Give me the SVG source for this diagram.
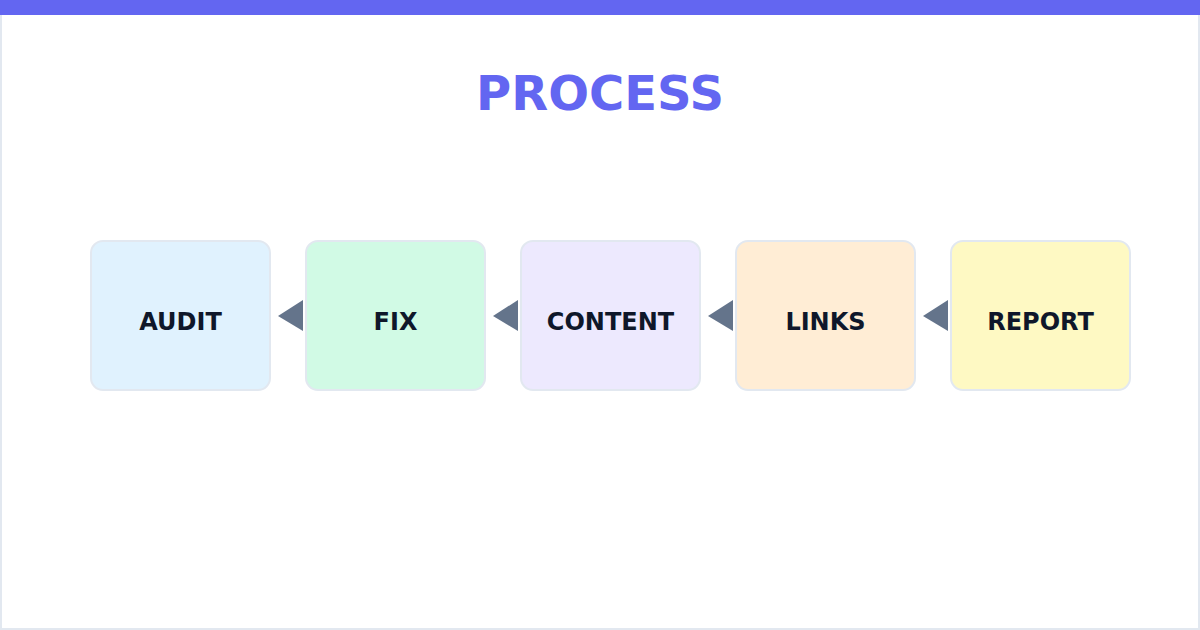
<svg xmlns="http://www.w3.org/2000/svg" width="1200" height="630" viewBox="0 0 1200 630">
<style>
.box{stroke:#e2e8f0;stroke-width:2}
.lbl{font-family:"DejaVu Sans",sans-serif;font-weight:bold;font-size:24px;fill:#0f172a;text-anchor:middle}
.arr{fill:#64748b}
</style>
<rect x="1" y="1" width="1198" height="628" fill="#ffffff" stroke="#e2e8f0" stroke-width="2"/>
<rect x="0" y="0" width="1200" height="15" fill="#6366f1"/>
<text x="600" y="110" font-family="DejaVu Sans, sans-serif" font-weight="bold" font-size="48" fill="#6366f1" text-anchor="middle">PROCESS</text>
<g id="connectors">
<polygon class="arr" points="278,316 303,300 303,331"/>
<polygon class="arr" points="493,316 518,300 518,331"/>
<polygon class="arr" points="708,316 733,300 733,331"/>
<polygon class="arr" points="923,316 948,300 948,331"/>
</g>
<g id="audit"><rect class="box" x="91" y="241" width="179" height="149" rx="12" fill="#e0f2fe"/><text class="lbl" x="180.5" y="330">AUDIT</text></g>
<g id="fix"><rect class="box" x="306" y="241" width="179" height="149" rx="12" fill="#d1fae5"/><text class="lbl" x="395.5" y="330">FIX</text></g>
<g id="content"><rect class="box" x="521" y="241" width="179" height="149" rx="12" fill="#ede9fe"/><text class="lbl" x="610.5" y="330">CONTENT</text></g>
<g id="links"><rect class="box" x="736" y="241" width="179" height="149" rx="12" fill="#ffedd5"/><text class="lbl" x="825.5" y="330">LINKS</text></g>
<g id="report"><rect class="box" x="951" y="241" width="179" height="149" rx="12" fill="#fef9c3"/><text class="lbl" x="1040.5" y="330">REPORT</text></g>
</svg>
